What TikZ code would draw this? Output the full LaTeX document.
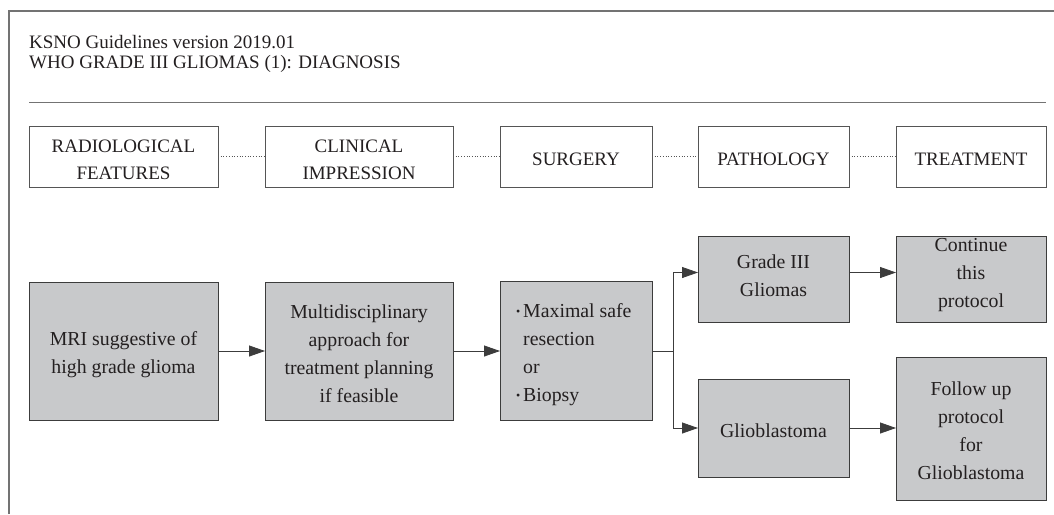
\documentclass[tikz,border=0pt]{standalone}
\usepackage{fontspec}
\usepackage{graphicx}
\setmainfont{Liberation Serif}
\usetikzlibrary{arrows.meta}
\definecolor{boxfill}{RGB}{200,201,203}
\definecolor{edgecol}{RGB}{60,60,60}
\definecolor{txtcol}{RGB}{35,31,32}
\definecolor{framecol}{RGB}{115,115,115}
\definecolor{hdredge}{RGB}{85,85,85}
\newcommand\sbul{\makebox[7pt][l]{\raisebox{2.5pt}{\scalebox{0.6}{\textbullet}}}}
\begin{document}
\begin{tikzpicture}[x=1pt,y=-1pt,
  txt/.style={text=txtcol,font=\fontsize{19}{28}\selectfont},
  hdrbox/.style={draw=hdredge,line width=0.9pt,fill=white,inner sep=0pt,outer sep=0pt},
  hdrtxt/.style={align=center,text=txtcol,inner sep=0pt,font=\fontsize{19}{27}\selectfont},
  mainbox/.style={draw=edgecol,line width=0.9pt,fill=boxfill,inner sep=0pt,outer sep=0pt},
  boxtxt/.style={align=center,text=txtcol,inner sep=0pt,font=\fontsize{19.8}{28}\selectfont},
  dotcon/.style={draw=hdredge,dotted,line width=0.7pt},
  arr/.style={draw=edgecol,line width=0.8pt,-{Triangle[length=16pt,width=11pt]}},
  plainline/.style={draw=edgecol,line width=0.8pt}
]
\useasboundingbox (0,0) rectangle (1054,514);
% frame
\draw[framecol,line width=1.5pt] (9,514) -- (9,11) -- (1054,11);
% titles
\node[txt,anchor=base west,inner sep=0pt] (t1) at (29,48.5) {KSNO Guidelines version 2019.01};
\node[txt,anchor=base west,inner sep=0pt] (t2) at (29,68.5) {WHO GRADE III GLIOMAS (1): DIAGNOSIS};
\draw[framecol,line width=1pt] (29,102) -- (1046,102);
% header boxes
\node[hdrbox,minimum width=189pt,minimum height=61pt] (h1) at (123.5,156.5) {};
\node[hdrbox,minimum width=188pt,minimum height=61pt] (h2) at (359,156.5) {};
\node[hdrbox,minimum width=152pt,minimum height=61pt] (h3) at (576,156.5) {};
\node[hdrbox,minimum width=151pt,minimum height=61pt] (h4) at (773.5,156.5) {};
\node[hdrbox,minimum width=150pt,minimum height=61pt] (h5) at (971,156.5) {};
\node[hdrtxt] (h1t) at ([yshift=-3pt]h1.center) {RADIOLOGICAL\\FEATURES};
\node[hdrtxt] (h2t) at ([yshift=-3pt]h2.center) {CLINICAL\\IMPRESSION};
\node[hdrtxt] (h3t) at ([yshift=-2.5pt]h3.center) {SURGERY};
\node[hdrtxt] (h4t) at ([yshift=-2.5pt]h4.center) {PATHOLOGY};
\node[hdrtxt] (h5t) at ([yshift=-2.5pt]h5.center) {TREATMENT};
\draw[dotcon] (h1.east) -- (h2.west);
\draw[dotcon] (h2.east) -- (h3.west);
\draw[dotcon] (h3.east) -- (h4.west);
\draw[dotcon] (h4.east) -- (h5.west);
% main boxes
\node[mainbox,minimum width=189pt,minimum height=138pt] (mri) at (123.5,351) {};
\node[mainbox,minimum width=188pt,minimum height=138pt] (multi) at (359,351) {};
\node[mainbox,minimum width=152pt,minimum height=139pt] (surg) at (576,351) {};
\node[mainbox,minimum width=151pt,minimum height=86pt] (g3) at (773.5,279) {};
\node[mainbox,minimum width=150pt,minimum height=86pt] (cont) at (971,279) {};
\node[mainbox,minimum width=151pt,minimum height=98pt] (gbm) at (773.5,428) {};
\node[mainbox,minimum width=150pt,minimum height=143pt] (fu) at (971,428.5) {};
\node[boxtxt] (mrit) at ([yshift=-3.5pt]mri.center) {MRI suggestive of\\high grade glioma};
\node[boxtxt] (multit) at ([yshift=-3pt]multi.center) {Multidisciplinary\\approach for\\treatment planning\\if feasible};
\node[boxtxt,anchor=west,align=left,font=\fontsize{19.8}{28}\selectfont] (surgt) at (516,355)
  {\sbul Maximal safe\\\hspace*{7pt}resection\\\hspace*{7pt}or\\\sbul Biopsy};
\node[boxtxt] (g3t) at (773.5,276) {Grade III\\Gliomas};
\node[boxtxt] (contt) at (971,275.5) {Continue\\this\\protocol};
\node[boxtxt] (gbmt) at ([yshift=-3pt]gbm.center) {Glioblastoma};
\node[boxtxt] (fut) at ([yshift=-2.5pt]fu.center) {Follow up\\protocol\\for\\Glioblastoma};
% connectors
\draw[arr] (mri.east) -- (multi.west);
\draw[arr] (multi.east) -- (surg.west);
\coordinate (br) at (673,351);
\coordinate (g3in) at (g3.west |- 0,272.5);
\draw[plainline] (surg.east) -- (br);
\draw[arr] (br) |- (g3in);
\draw[arr] (br) |- (gbm.west);
\draw[arr] (g3in -| g3.east) -- (g3in -| cont.west);
\draw[arr] (gbm.east) -- (gbm.east -| fu.west);
\end{tikzpicture}
\end{document}
